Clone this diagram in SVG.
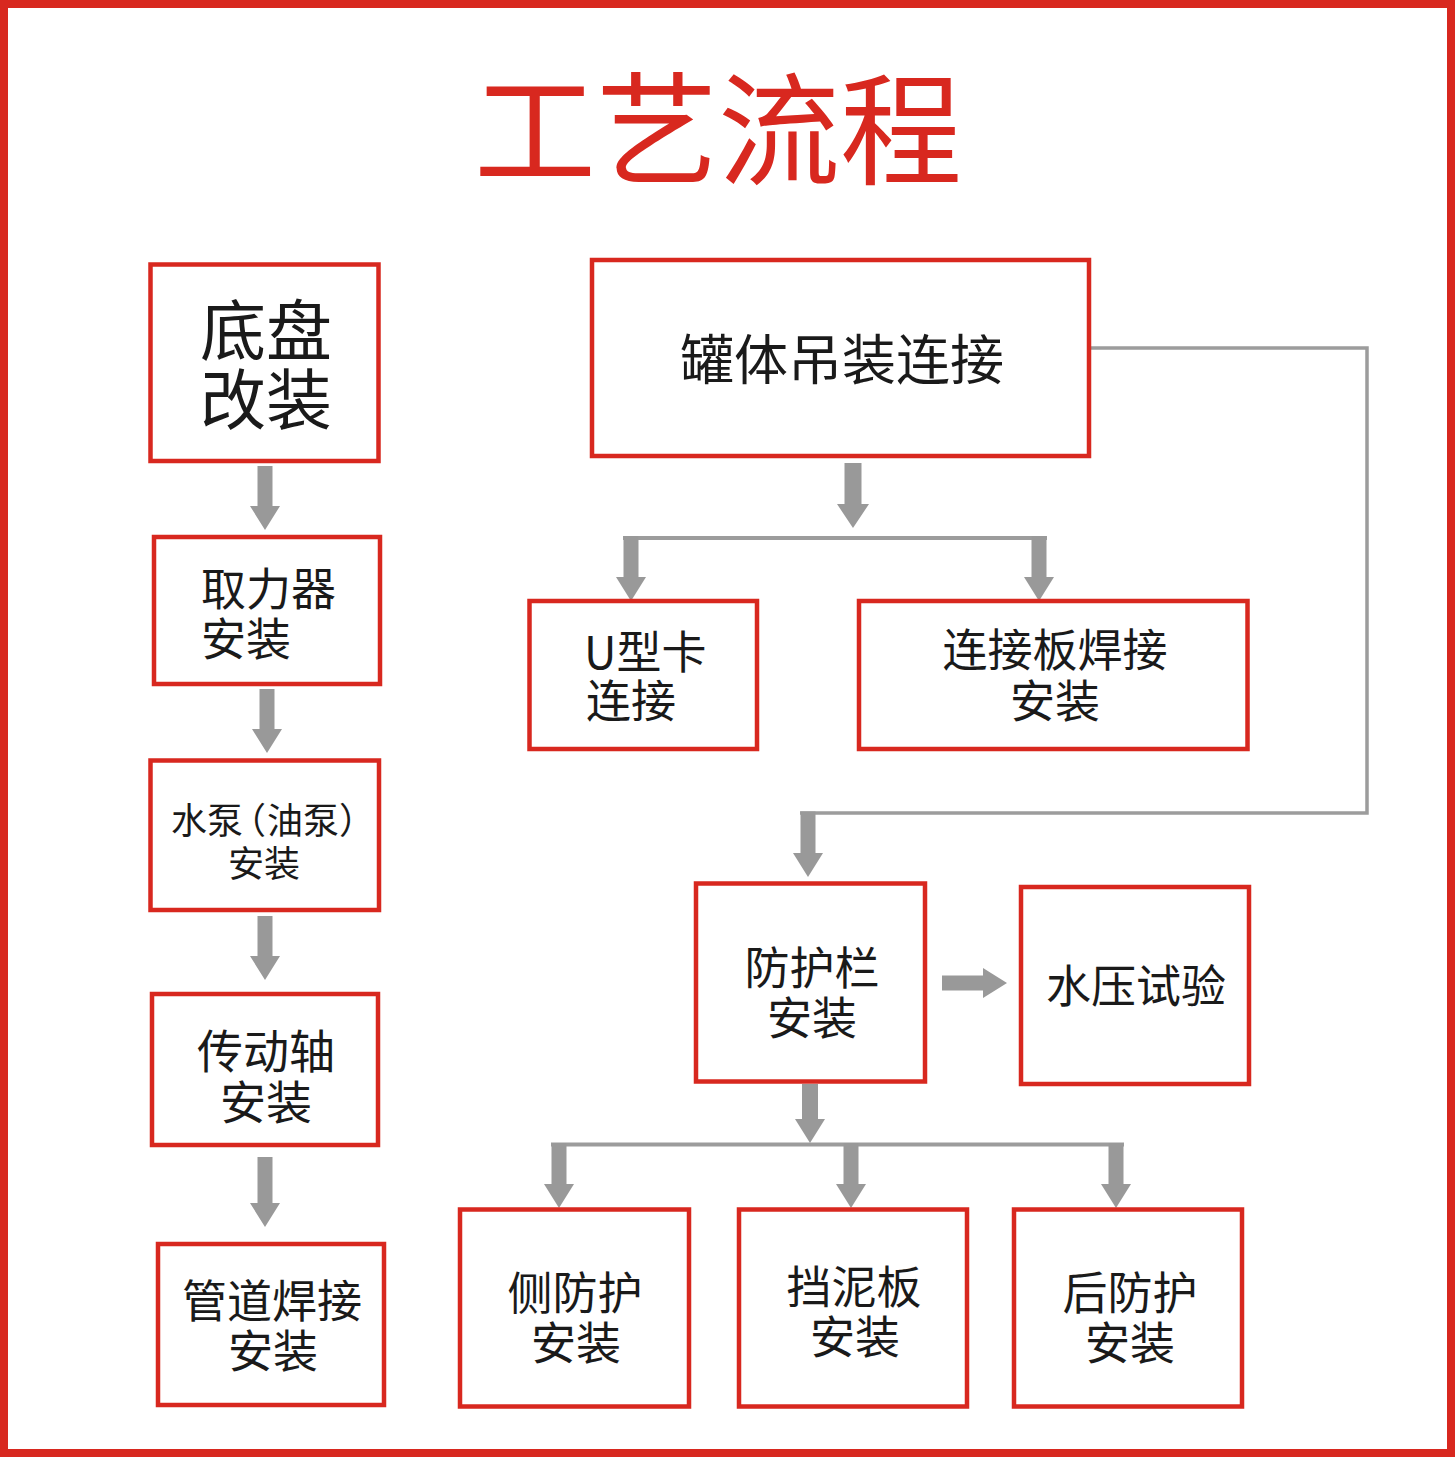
<svg xmlns="http://www.w3.org/2000/svg" width="1456" height="1459" viewBox="0 0 1456 1459">
<style>
.box{fill:#fff;stroke:#d8281f;stroke-width:4.5}
.t{font-family:"Noto Sans CJK SC","Noto Sans",sans-serif;fill:#1a1a1a;text-anchor:middle}
.arr{fill:#999}
.ln{fill:none;stroke:#9c9c9c;stroke-width:4}
.ln2{fill:none;stroke:#9c9c9c;stroke-width:3.5}
</style>
<rect x="0" y="0" width="1456" height="1459" fill="#fff"/>
<rect x="4" y="4" width="1447" height="1449" fill="none" stroke="#d8281f" stroke-width="8"/>
<text x="718" y="175" font-family="Noto Sans CJK SC, sans-serif" font-size="122" font-weight="400" fill="#d8281f" text-anchor="middle">工艺流程</text>

<g id="connectors">
<polyline class="ln2" points="1091,348 1367,348 1367,813 800,813"/>
<line class="ln" x1="623" y1="538" x2="1047" y2="538"/>
<line class="ln" x1="551" y1="1144.5" x2="1124" y2="1144.5"/>
<path class="arr" d="M257.5,466 H272.5 V506 H280 L265,530 L250,506 H257.5 Z"/>
<path class="arr" d="M259.5,689 H274.5 V729 H282 L267,753 L252,729 H259.5 Z"/>
<path class="arr" d="M257.5,916 H272.5 V956 H280 L265,980 L250,956 H257.5 Z"/>
<path class="arr" d="M257.5,1157 H272.5 V1203 H280 L265,1227 L250,1203 H257.5 Z"/>
<path class="arr" d="M844.5,463 H861.5 V504 H869 L853,528 L837,504 H844.5 Z"/>
<path class="arr" d="M623.5,536 H638.5 V577 H646 L631,601 L616,577 H623.5 Z"/>
<path class="arr" d="M1031.5,536 H1046.5 V577 H1054 L1039,601 L1024,577 H1031.5 Z"/>
<path class="arr" d="M800.5,811.5 H815.5 V853 H823 L808,877 L793,853 H800.5 Z"/>
<path class="arr" d="M942,975.5 H983 V968 L1007,983 L983,998 V990.5 H942 Z"/>
<path class="arr" d="M802,1084 H818 V1119 H825 L810,1143 L795,1119 H802 Z"/>
<path class="arr" d="M551.5,1143 H566.5 V1184 H574 L559,1208 L544,1184 H551.5 Z"/>
<path class="arr" d="M843.5,1143 H858.5 V1184 H866 L851,1208 L836,1184 H843.5 Z"/>
<path class="arr" d="M1108.5,1143 H1123.5 V1184 H1131 L1116,1208 L1101,1184 H1108.5 Z"/>
</g>

<g id="n1"><rect class="box" x="150.5" y="264.5" width="228" height="196.5"/>
<text class="t" font-size="66" x="266"><tspan x="266" y="355">底盘</tspan><tspan x="266" y="424">改装</tspan></text></g>

<g id="n2"><rect class="box" x="154" y="537" width="226" height="147"/>
<text class="t" font-size="45" style="text-anchor:start"><tspan x="201" y="606">取力器</tspan><tspan x="201" y="656">安装</tspan></text></g>

<g id="n3"><rect class="box" x="150.5" y="760.5" width="228.5" height="149.5"/>
<text class="t" font-size="36" style="text-anchor:start" x="171 207 230 267 303 339" y="834">水泵（油泵）</text>
<text class="t" font-size="36" x="264" y="877">安装</text></g>

<g id="n4"><rect class="box" x="152" y="994" width="226" height="151"/>
<text class="t" font-size="46" x="266"><tspan x="266" y="1068">传动轴</tspan><tspan x="266" y="1119">安装</tspan></text></g>

<g id="n5"><rect class="box" x="158" y="1244" width="226" height="161"/>
<text class="t" font-size="45"><tspan x="272" y="1318">管道焊接</tspan><tspan x="273" y="1368">安装</tspan></text></g>

<g id="n6"><rect class="box" x="592" y="260" width="497" height="196"/>
<text class="t" font-size="54" x="842" y="380">罐体吊装连接</text></g>

<g id="n7"><rect class="box" x="529.5" y="601" width="227.5" height="148"/>
<text class="t" font-size="45" style="text-anchor:start"><tspan x="584" y="669">U型卡</tspan><tspan x="586" y="718">连接</tspan></text></g>

<g id="n8"><rect class="box" x="859" y="601" width="388.5" height="148"/>
<text class="t" font-size="45"><tspan x="1055" y="667">连接板焊接</tspan><tspan x="1055" y="718">安装</tspan></text></g>

<g id="n9"><rect class="box" x="696" y="883.5" width="229" height="198"/>
<text class="t" font-size="45"><tspan x="812" y="985">防护栏</tspan><tspan x="812" y="1035">安装</tspan></text></g>

<g id="n10"><rect class="box" x="1021" y="887" width="228" height="197"/>
<text class="t" font-size="45" x="1136" y="1003">水压试验</text></g>

<g id="n11"><rect class="box" x="460" y="1209.5" width="229" height="197"/>
<text class="t" font-size="45"><tspan x="575" y="1310">侧防护</tspan><tspan x="576" y="1360">安装</tspan></text></g>

<g id="n12"><rect class="box" x="739" y="1209.5" width="228" height="197"/>
<text class="t" font-size="45"><tspan x="854" y="1304">挡泥板</tspan><tspan x="855" y="1354">安装</tspan></text></g>

<g id="n13"><rect class="box" x="1014" y="1209.5" width="228" height="197"/>
<text class="t" font-size="45"><tspan x="1130" y="1310">后防护</tspan><tspan x="1130" y="1360">安装</tspan></text></g>
</svg>
